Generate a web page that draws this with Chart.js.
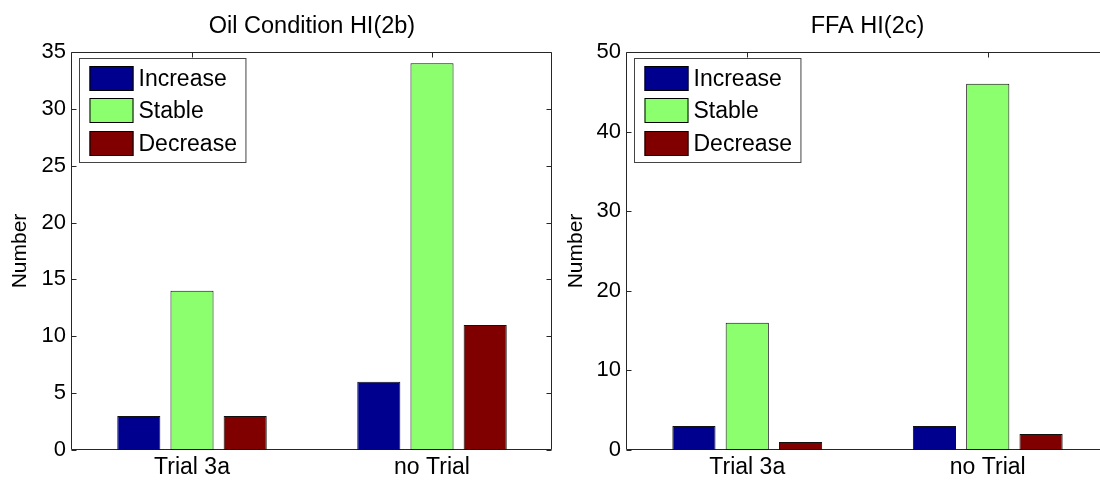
<!DOCTYPE html>
<html>
<head>
<meta charset="utf-8">
<script src="https://cdn.jsdelivr.net/npm/chart.js@4/dist/chart.umd.min.js"></script>
<style>
  html, body { margin: 0; padding: 0; background: #fff; overflow: hidden; }
  .panel { position: absolute; top: 0; }
</style>
</head>
<body>
<div class="panel" style="left:0"><canvas id="oilChart" width="560" height="481"></canvas></div>
<div class="panel" style="left:560px"><canvas id="ffaChart" width="560" height="481"></canvas></div>
<script>
// ---------- DATA ----------
const categories = ["Trial 3a", "no Trial"];
const seriesNames = ["Increase", "Stable", "Decrease"];
const seriesColors = ["#00008f", "#8cff6e", "#800000"];

const oilIncrease = [3, 6];
const oilStable = [14, 34];
const oilDecrease = [3, 11];

const ffaIncrease = [3, 3];
const ffaStable = [16, 46];
const ffaDecrease = [1, 2];

const oilTickMax = 35;
const oilTickStep = 5;
const ffaTickMax = 50;
const ffaTickStep = 10;

const FONT = "'Liberation Sans', Arial, sans-serif";

// ---------- PLUGINS ----------
// matlab style axes box with inward ticks, drawn under the bars
const framePlugin = {
  id: "frame",
  beforeDatasetsDraw(chart) {
    const { ctx, chartArea: a, scales } = chart;
    const L = a.left - 0.5, R = a.right - 0.5, T = a.top + 0.5, B = a.bottom - 0.5;
    ctx.save();
    ctx.strokeStyle = "#262626";
    ctx.lineWidth = 1;
    ctx.beginPath();
    ctx.rect(L, T, R - L, B - T);
    scales.y.ticks.forEach((t) => {
      const y = Math.round(scales.y.getPixelForValue(t.value)) + 0.5;
      ctx.moveTo(L, y);
      ctx.lineTo(L + 5, y);
      ctx.moveTo(R, y);
      ctx.lineTo(R - 5, y);
    });
    scales.x.ticks.forEach((t, i) => {
      const x = Math.round(scales.x.getPixelForTick(i)) + 0.5;
      ctx.moveTo(x, B);
      ctx.lineTo(x, B - 5);
      ctx.moveTo(x, T);
      ctx.lineTo(x, T + 5);
    });
    ctx.stroke();
    ctx.restore();
  },
  afterDatasetsDraw(chart) {
    // legend box in the upper left corner
    const { ctx, chartArea: a } = chart;
    const sets = chart.data.datasets;
    ctx.save();
    ctx.font = "23px " + FONT;
    const boxL = a.left + 7.5;
    const boxT = a.top + 6.5;
    const patchL = boxL + 10;
    let textW = 0;
    sets.forEach((ds) => (textW = Math.max(textW, ctx.measureText(ds.label).width)));
    const boxW = 10 + 44 + 5 + textW + 9;
    const boxH = 104;
    ctx.fillStyle = "#fff";
    ctx.fillRect(boxL, boxT, boxW, boxH);
    ctx.strokeStyle = "#444";
    ctx.lineWidth = 1;
    ctx.strokeRect(boxL, boxT, boxW, boxH);
    sets.forEach((ds, i) => {
      const top = Math.round(boxT + 7 + i * 32.5);
      ctx.fillStyle = ds.backgroundColor;
      ctx.fillRect(patchL, top, 44, 25);
      ctx.strokeStyle = "#000";
      ctx.strokeRect(patchL + 0.5, top + 0.5, 43, 24);
      ctx.fillStyle = "#000";
      ctx.textBaseline = "middle";
      ctx.textAlign = "left";
      ctx.fillText(ds.label, patchL + 49, top + 13.5);
    });
    ctx.restore();
  },
};

// ---------- CHART BUILDER ----------
function makeChart(id, title, values, tickMax, tickStep, yLeft, padRight, yTitlePad) {
  const ctx = document.getElementById(id).getContext("2d");
  return new Chart(ctx, {
    type: "bar",
    data: {
      labels: categories,
      datasets: values.map((v, i) => ({
        label: seriesNames[i],
        data: v,
        backgroundColor: seriesColors[i],
        borderColor: "#111",
        borderWidth: 1,
        borderSkipped: false,
        barPercentage: 0.81,
        categoryPercentage: 0.665,
      })),
    },
    options: {
      responsive: false,
      animation: false,
      devicePixelRatio: 1,
      layout: { padding: { left: 0, right: padRight, top: 0, bottom: 0 } },
      plugins: {
        legend: { display: false },
        tooltip: { enabled: false },
        title: {
          display: true,
          text: title,
          fullSize: false,
          color: "#000",
          font: { family: FONT, size: 23.5, weight: "normal", lineHeight: "28px" },
          padding: { top: 13, bottom: 11 },
        },
      },
      scales: {
        x: {
          grid: { display: false, drawTicks: false },
          border: { display: false },
          ticks: { color: "#000", padding: 4, font: { family: FONT, size: 23 } },
          afterFit: (scale) => {
            scale.height = 31;
          },
        },
        y: {
          min: 0,
          max: tickMax,
          grid: { display: false, drawTicks: false },
          border: { display: false },
          ticks: { stepSize: tickStep, color: "#000", padding: 6, font: { family: FONT, size: 22 } },
          title: {
            display: true,
            text: "Number",
            color: "#000",
            font: { family: FONT, size: 21 },
            padding: { top: yTitlePad, bottom: 0 },
          },
          afterFit: (scale) => {
            scale.width = yLeft;
          },
        },
      },
    },
    plugins: [framePlugin],
  });
}

makeChart("oilChart", "Oil Condition HI(2b)", [oilIncrease, oilStable, oilDecrease], oilTickMax, oilTickStep, 72, 8, 8);
makeChart("ffaChart", "FFA HI(2c)", [ffaIncrease, ffaStable, ffaDecrease], ffaTickMax, ffaTickStep, 67, 12, 4);
</script>
</body>
</html>
